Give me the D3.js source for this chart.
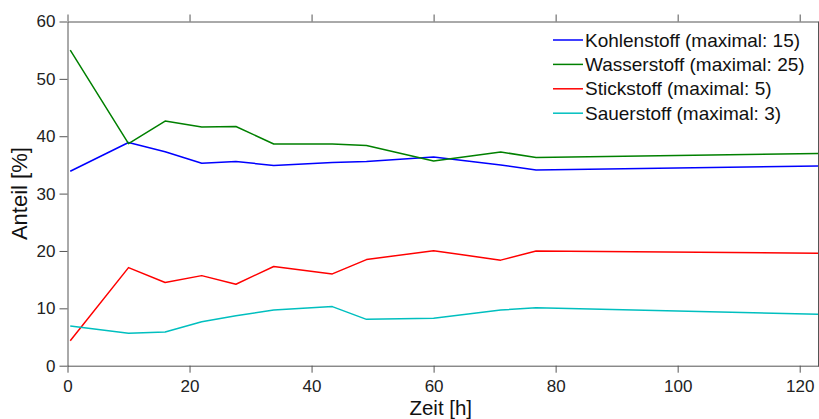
<!DOCTYPE html>
<html><head><meta charset="utf-8">
<script src="https://cdn.jsdelivr.net/npm/d3@7"></script>
<style>body{margin:0;background:#fff}svg{display:block;font-family:"Liberation Sans",Arial,sans-serif}</style>
</head><body>
<svg id="c" width="819" height="419"></svg>
<script>
const times = [0.45, 10, 16, 22, 27.6, 33.8, 43.4, 49, 60, 71, 76.8, 123];
const kohlenstoff = [33.9, 38.9, 37.3, 35.3, 35.6, 34.9, 35.4, 35.6, 36.4, 35.0, 34.1, 34.8];
const wasserstoff = [55.0, 38.7, 42.65, 41.6, 41.7, 38.65, 38.65, 38.4, 35.7, 37.25, 36.3, 37.0];
const stickstoff = [4.36, 17.1, 14.5, 15.7, 14.2, 17.3, 16.0, 18.5, 20.05, 18.4, 20.0, 19.6];
const sauerstoff = [6.9, 5.64, 5.87, 7.67, 8.7, 9.7, 10.3, 8.08, 8.26, 9.7, 10.1, 8.96];
const seriesNames = ["Kohlenstoff (maximal: 15)", "Wasserstoff (maximal: 25)", "Stickstoff (maximal: 5)", "Sauerstoff (maximal: 3)"];
const seriesColors = ["#0000ff", "#008000", "#ff0000", "#00bfbf"];
const xTicks = [0, 20, 40, 60, 80, 100, 120];
const yTicks = [0, 10, 20, 30, 40, 50, 60];
const xTitle = "Zeit [h]";
const yTitle = "Anteil [%]";

const seriesValues = [kohlenstoff, wasserstoff, stickstoff, sauerstoff];
const L = 67.5, R = 818, T = 21.5, B = 365.7;
const svg = d3.select("#c");
const x = d3.scaleLinear().domain([0, 123]).range([L, R]);
const y = d3.scaleLinear().domain([0, 60]).range([B, T]);
const axisColor = "#555";

function styleAxis(g) {
  g.selectAll("path").attr("stroke", axisColor);
  g.selectAll("line").attr("stroke", axisColor);
  g.selectAll("text").attr("fill", "#222").style("font-size", "17px").style("font-family", '"Liberation Sans",Arial,sans-serif');
}
svg.append("g").attr("transform", `translate(0,${B})`)
  .call(d3.axisBottom(x).tickValues(xTicks).tickSize(7).tickSizeOuter(0).tickPadding(7.2))
  .call(styleAxis);
svg.append("g").attr("transform", `translate(0,${T})`)
  .call(d3.axisTop(x).tickValues(xTicks).tickSize(7).tickSizeOuter(0).tickFormat(""))
  .call(styleAxis);
svg.append("g").attr("transform", `translate(${L},0)`)
  .call(d3.axisLeft(y).tickValues(yTicks).tickSize(8).tickSizeOuter(0).tickPadding(4))
  .call(styleAxis);
svg.append("g").attr("transform", `translate(${R},0)`)
  .call(d3.axisRight(y).tickValues(yTicks).tickSize(7).tickSizeOuter(0).tickFormat(""))
  .call(styleAxis);

svg.append("defs").append("clipPath").attr("id", "clip")
  .append("rect").attr("x", L).attr("y", T).attr("width", R - L).attr("height", B - T);

const line = d3.line().x((d, i) => x(times[i])).y(d => y(d));
const plot = svg.append("g").attr("clip-path", "url(#clip)");
seriesValues.forEach((vals, k) => {
  plot.append("path").datum(vals).attr("d", line)
    .attr("fill", "none").attr("stroke", seriesColors[k]).attr("stroke-width", 1.5)
    .attr("stroke-linejoin", "round");
});

const leg = svg.append("g");
seriesNames.forEach((name, k) => {
  const yy = 40 + k * 24.4;
  leg.append("line").attr("x1", 553).attr("x2", 583).attr("y1", yy).attr("y2", yy)
    .attr("stroke", seriesColors[k]).attr("stroke-width", 1.5);
  leg.append("text").attr("x", 585).attr("y", yy).attr("dy", "0.35em")
    .style("font-size", "19px").attr("fill", "#111").text(name);
});

svg.append("text").attr("x", (L + R) / 2 - 2).attr("y", 414.5).attr("text-anchor", "middle")
  .style("font-size", "20.5px").attr("fill", "#111").text(xTitle);
svg.append("text").attr("transform", `translate(27,${(T + B) / 2}) rotate(-90)`)
  .attr("text-anchor", "middle").style("font-size", "22px").attr("fill", "#111").text(yTitle);
</script>
</body></html>
